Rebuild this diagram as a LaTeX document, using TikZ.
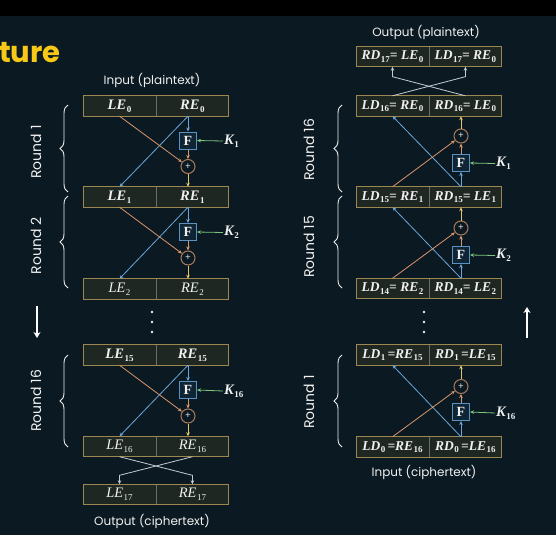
\documentclass[tikz,border=0pt]{standalone}
\usepackage{fontspec}
\setmainfont{Poppins}
\newfontfamily\serifb{Liberation Serif}
\usetikzlibrary{arrows.meta,decorations.pathreplacing,calc}
\definecolor{bg}{HTML}{0B1A22}
\definecolor{boxfill}{HTML}{1E2722}
\definecolor{boxborder}{HTML}{9C8750}
\definecolor{divc}{HTML}{6E6E66}
\definecolor{fblue}{HTML}{5A92C4}
\definecolor{ffill}{HTML}{0F2534}
\definecolor{lblue}{HTML}{6AA6DC}
\definecolor{lorange}{HTML}{D9956B}
\definecolor{lyellow}{HTML}{E8C46A}
\definecolor{lgreen}{HTML}{7DC47D}
\definecolor{xorc}{HTML}{A87A5A}
\definecolor{crossc}{HTML}{C4CCD4}
\definecolor{titley}{HTML}{F7C815}
\definecolor{txt}{HTML}{F0F0F0}
\definecolor{txtdim}{HTML}{D4D4D4}
\newcommand\labB[2]{{\serifb\bfseries\itshape #1\kern0.5pt\raisebox{-0.4ex}{\fontsize{9}{9}\selectfont\upshape #2}}}
\newcommand\labN[2]{{\serifb\itshape #1\kern0.5pt\raisebox{-0.4ex}{\fontsize{9}{9}\selectfont\upshape #2}}}
\newcommand\dbox[5]{%
  \node[halfbox] (#1l) at (#2,#3) {#4};
  \node[halfbox,anchor=west] (#1r) at (#1l.east) {#5};
  \draw[divline] (#1l.north east) -- (#1l.south east);
  \draw[boxframe] (#1l.north west) rectangle (#1r.south east);
}
\begin{document}
\begin{tikzpicture}[x=1pt,y=-1pt,
  halfbox/.style={fill=boxfill, minimum width=72.5pt, minimum height=20pt, inner sep=0pt, text=txt},
  boxframe/.style={draw=boxborder, line width=1pt},
  divline/.style={draw=divc, line width=0.6pt},
  fbox/.style={draw=fblue, fill=ffill, minimum size=17pt, inner sep=0pt, line width=1pt, text=txt, font=\serifb\bfseries\fontsize{14}{14}\selectfont},
  xorn/.style={circle, draw=xorc, fill=bg, line width=1pt, minimum size=14pt, inner sep=0pt, text=txtdim, font=\fontsize{9}{9}\selectfont},
  keyl/.style={anchor=west, inner sep=1pt, text=txt, font=\fontsize{14.5}{14.5}\selectfont},
  arrtip/.style={-{Stealth[length=4pt,width=3.5pt]}},
  bl/.style={draw=lblue, line width=0.8pt, arrtip},
  ol/.style={draw=lorange, line width=0.8pt, arrtip},
  yl/.style={draw=lyellow, line width=0.8pt, arrtip},
  gl/.style={draw=lgreen, line width=0.8pt, arrtip},
  cl/.style={draw=crossc, line width=0.8pt, arrtip},
  brc/.style={draw=txt, line width=0.9pt, decorate, decoration={brace, amplitude=8pt}},
  roundlab/.style={rotate=90, text=txt, font=\fontsize{14}{14}\selectfont},
  caplab/.style={text=txt, font=\fontsize{12}{12}\selectfont},
  bigarrow/.style={draw=white, line width=1.8pt, -{Stealth[length=6pt,width=7pt]}},
  dotn/.style={circle, fill=txt, inner sep=0pt, minimum size=2.8pt}
]
\fill[bg] (0,0) rectangle (556,535);
\fill[black] (0,0) rectangle (556,16);
\useasboundingbox (0,0) rectangle (556,535);

% title fragment
\node[anchor=base west, inner sep=0pt, text=titley, font=\fontsize{29}{29}\selectfont\bfseries] (title) at (-1,63) {ture};

%================ LEFT (encryption) ================
\node[caplab] (inL) at (152,80) {Input (plaintext)};
\tikzset{halfbox/.append style={font=\fontsize{14.5}{14.5}\selectfont}}
\dbox{A0}{119.5}{106}{\labB{LE}{0}}{\labB{RE}{0}}
\dbox{A1}{119.5}{197}{\labB{LE}{1}}{\labB{RE}{1}}
\dbox{A2}{119.5}{289}{\labN{LE}{2}}{\labN{RE}{2}}
\dbox{A15}{119.5}{355}{\labB{LE}{15}}{\labB{RE}{15}}
\dbox{A16}{119.5}{446.5}{\labN{LE}{16}}{\labN{RE}{16}}
\dbox{A17}{119.5}{494.5}{\labN{LE}{17}}{\labN{RE}{17}}
\node[caplab] (outL) at (152,521) {Output (ciphertext)};

% round 1
\node[fbox] (FA1) at (188,140.5) {F};
\node[xorn] (XA1) at (188,166.5) {+};
\node[keyl] (KA1) at (223,141) {\labB{K}{1}};
\draw[bl] (FA1 |- A0r.south) -- (FA1.north);
\draw[bl] (FA1 |- A0r.south) -- (A1l.north);
\draw[ol] (A0l.south) -- (XA1);
\draw[ol] (FA1.south) -- (XA1.north);
\draw[yl] (XA1.south) -- (XA1 |- A1r.north);
\draw[gl] (KA1.west) -- (FA1.east);
% round 2
\node[fbox] (FA2) at (188,232) {F};
\node[xorn] (XA2) at (188,258) {+};
\node[keyl] (KA2) at (223,232.5) {\labB{K}{2}};
\draw[bl] (FA2 |- A1r.south) -- (FA2.north);
\draw[bl] (FA2 |- A1r.south) -- (A2l.north);
\draw[ol] (A1l.south) -- (XA2);
\draw[ol] (FA2.south) -- (XA2.north);
\draw[yl] (XA2.south) -- (XA2 |- A2r.north);
\draw[gl] (KA2.west) -- (FA2.east);
% round 16
\node[fbox] (FA16) at (188,390) {F};
\node[xorn] (XA16) at (188,416) {+};
\node[keyl] (KA16) at (223,391) {\labB{K}{16}};
\draw[bl] (FA16 |- A15r.south) -- (FA16.north);
\draw[bl] (FA16 |- A15r.south) -- (A16l.north);
\draw[ol] (A15l.south) -- (XA16);
\draw[ol] (FA16.south) -- (XA16.north);
\draw[yl] (XA16.south) -- (XA16 |- A16r.north);
\draw[gl] (KA16.west) -- (FA16.east);
% final swap
\draw[cl] (A16l.south) -- ($(A17r.north)+(0,-9)$) -- (A17r.north);
\draw[cl] (A16r.south) -- ($(A17l.north)+(0,-9)$) -- (A17l.north);

% dots and arrow
\node[dotn] (dl1) at (152,312) {};
\node[dotn] (dl2) at (152,322) {};
\node[dotn] (dl3) at (152,332) {};
\coordinate (dnA) at (37,306);
\coordinate (dnB) at (37,338);
\draw[bigarrow] (dnA) -- (dnB);

% braces
\coordinate (bA1b) at (68,192);
\coordinate (bA1t) at (68,105);
\coordinate (bA2b) at (68,288);
\coordinate (bA2t) at (68,196);
\coordinate (bA16b) at (68,447);
\coordinate (bA16t) at (68,355);
\draw[brc] (bA1b) -- (bA1t);
\draw[brc] (bA2b) -- (bA2t);
\draw[brc] (bA16b) -- (bA16t);
\node[roundlab] (rA1) at (36,152) {Round 1};
\node[roundlab] (rA2) at (36,246) {Round 2};
\node[roundlab] (rA16) at (36,401) {Round 16};

%================ RIGHT (decryption) ================
\node[caplab] (outR) at (426,32) {Output (plaintext)};
\tikzset{halfbox/.append style={font=\fontsize{13.5}{13.5}\selectfont}}
\dbox{B17}{392.5}{56.5}{\labB{RD}{17}\labB{= LE}{0}}{\labB{LD}{17}\labB{= RE}{0}}
\dbox{B16}{392.5}{106}{\labB{LD}{16}\labB{= RE}{0}}{\labB{RD}{16}\labB{= LE}{0}}
\dbox{B15}{392.5}{197}{\labB{LD}{15}\labB{= RE}{1}}{\labB{RD}{15}\labB{= LE}{1}}
\dbox{B14}{392.5}{288.5}{\labB{LD}{14}\labB{= RE}{2}}{\labB{RD}{14}\labB{= LE}{2}}
\dbox{B1}{392.5}{355}{\labB{LD}{1}\labB{\,=RE}{15}}{\labB{RD}{1}\labB{\,=LE}{15}}
\dbox{B0}{392.5}{447}{\labB{LD}{0}\labB{\,=RE}{16}}{\labB{RD}{0}\labB{\,=LE}{16}}
\node[caplab] (inR) at (424,472) {Input (ciphertext)};

% round 16 (top)
\node[fbox] (FB16) at (461,163) {F};
\node[xorn] (XB16) at (461,136) {+};
\node[keyl] (KB16) at (495,163.5) {\labB{K}{1}};
\draw[bl] (FB16 |- B15r.north) -- (FB16.south);
\draw[bl] (FB16 |- B15r.north) -- (B16l.south);
\draw[ol] (B15l.north) -- (XB16);
\draw[ol] (FB16.north) -- (XB16.south);
\draw[yl] (XB16.north) -- (XB16 |- B16r.south);
\draw[gl] (KB16.west) -- (FB16.east);
% round 15
\node[fbox] (FB15) at (461,255) {F};
\node[xorn] (XB15) at (461,228) {+};
\node[keyl] (KB15) at (495,255.5) {\labB{K}{2}};
\draw[bl] (FB15 |- B14r.north) -- (FB15.south);
\draw[bl] (FB15 |- B14r.north) -- (B15l.south);
\draw[ol] (B14l.north) -- (XB15);
\draw[ol] (FB15.north) -- (XB15.south);
\draw[yl] (XB15.north) -- (XB15 |- B15r.south);
\draw[gl] (KB15.west) -- (FB15.east);
% round 1 (bottom)
\node[fbox] (FB1) at (461,412) {F};
\node[xorn] (XB1) at (461,386.5) {+};
\node[keyl] (KB1) at (495,413) {\labB{K}{16}};
\draw[bl] (FB1 |- B0r.north) -- (FB1.south);
\draw[bl] (FB1 |- B0r.north) -- (B1l.south);
\draw[ol] (B0l.north) -- (XB1);
\draw[ol] (FB1.north) -- (XB1.south);
\draw[yl] (XB1.north) -- (XB1 |- B1r.south);
\draw[gl] (KB1.west) -- (FB1.east);
% final swap
\draw[cl] (B16l.north) -- ($(B17r.south)+(0,10)$) -- (B17r.south);
\draw[cl] (B16r.north) -- ($(B17l.south)+(0,10)$) -- (B17l.south);

% dots and arrow
\node[dotn] (dr1) at (424,312) {};
\node[dotn] (dr2) at (424,322) {};
\node[dotn] (dr3) at (424,332) {};
\coordinate (upA) at (527,338);
\coordinate (upB) at (527,307);
\draw[bigarrow] (upA) -- (upB);

% braces
\coordinate (bB16b) at (342,192);
\coordinate (bB16t) at (342,105);
\coordinate (bB15b) at (342,288);
\coordinate (bB15t) at (342,196);
\coordinate (bB1b) at (342,447);
\coordinate (bB1t) at (342,355);
\draw[brc] (bB16b) -- (bB16t);
\draw[brc] (bB15b) -- (bB15t);
\draw[brc] (bB1b) -- (bB1t);
\node[roundlab] (rB16) at (309,150) {Round 16};
\node[roundlab] (rB15) at (309,247) {Round 15};
\node[roundlab] (rB1) at (309,402) {Round 1};
\end{tikzpicture}
\end{document}
